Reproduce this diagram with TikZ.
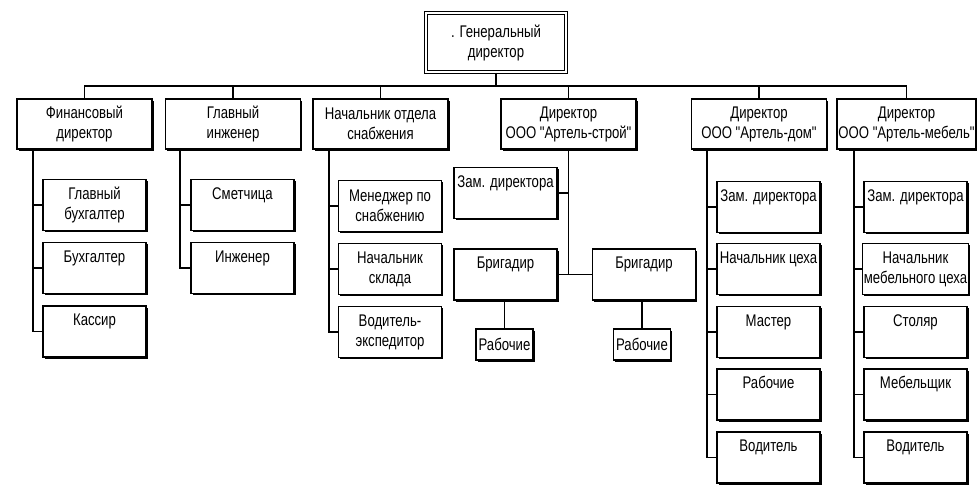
\documentclass[tikz,border=0pt]{standalone}
\usepackage{fontspec}
\setmainfont{Liberation Sans}[FakeStretch=0.78, Ligatures=TeXOff]
\usepackage{tikz}
\usetikzlibrary{shadows}

\begin{document}
\begin{tikzpicture}[x=0.025cm, y=-0.025cm,
    font=\fontsize{12}{14.2}\selectfont,
    box/.style={draw, fill=white, line width=0.9pt, align=center, inner sep=1pt,
      drop shadow={shadow xshift=1.3pt, shadow yshift=-1.3pt, fill=black, opacity=1}},
    head/.style={box, line width=1.3pt, double, double distance=0.9pt, minimum width=3.5cm, minimum height=1.475cm},
    dept/.style={box, minimum width=3.375cm, minimum height=1.25cm},
    cell/.style={box, minimum width=2.58cm, minimum height=1.275cm},
    topcell/.style={cell, text height=8.6pt, text depth=16.5pt},
    small/.style={box, minimum width=1.42cm, minimum height=0.78cm},
    wire/.style={line width=0.9pt}]
  \useasboundingbox (0,0) rectangle (977,496);
  % top
  \node[head] (gen) at (496,42.5) {. Генеральный\\ директор};
  \coordinate (bus) at (0,86);
  % second row
  \node[dept] (fin) at (84.5,124) {Финансовый\\ директор};
  \node[dept] (inzh) at (233,124) {Главный\\ инженер};
  \node[dept] (snab) at (380.5,124) {Начальник отдела\\ снабжения};
  \node[dept] (stroy) at (568.5,124) {Директор\\ ООО "Артель-строй"};
  \node[dept] (dom) at (759,124) {Директор\\ ООО "Артель-дом"};
  \node[dept] (mebel) at (906.5,124) {Директор\\ ООО "Артель-мебель"};
  \draw[wire] (gen.south) -- (gen.south |- bus);
  \draw[wire] (fin.north) -- (fin.north |- bus) -- (mebel.north |- bus) -- (mebel.north);
  \foreach \n in {inzh, snab, stroy, dom}
    \draw[wire] (\n.north) -- (\n.north |- bus);
  % finance
  \coordinate (finL) at (33,0);
  \node[cell] (glbuh) at (94.5,205) {Главный\\ бухгалтер};
  \node[topcell] (buh) at (94.5,268) {Бухгалтер};
  \node[topcell] (kas) at (94.5,331.5) {Кассир};
  \draw[wire] (fin.south -| finL) |- (kas.west);
  \foreach \n in {glbuh, buh}
    \draw[wire] (\n.west -| finL) -- (\n.west);
  % engineer
  \coordinate (inzhL) at (180,0);
  \node[topcell] (smet) at (242.5,205) {Сметчица};
  \node[topcell] (ing) at (242.5,268) {Инженер};
  \draw[wire] (inzh.south -| inzhL) |- (ing.west);
  \draw[wire] (smet.west -| inzhL) -- (smet.west);
  % supply
  \coordinate (snabL) at (329,0);
  \node[cell] (meng) at (390,206) {Менеджер по\\ снабжению};
  \node[cell] (sklad) at (390,269) {Начальник\\ склада};
  \node[cell] (vodex) at (390,332) {Водитель-\\ экспедитор};
  \draw[wire] (snab.south -| snabL) |- (vodex.west);
  \foreach \n in {meng, sklad}
    \draw[wire] (\n.west -| snabL) -- (\n.west);
  % Artel-stroy
  \node[topcell] (szam) at (505.5,193) {Зам. директора};
  \node[topcell] (brig1) at (505.5,274.5) {Бригадир};
  \node[topcell] (brig2) at (644,274.5) {Бригадир};
  \node[small] (rab1) at (504.5,344.5) {Рабочие};
  \node[small] (rab2) at (642,344.5) {Рабочие};
  \draw[wire] (stroy.south) -- (stroy.south |- brig1.east);
  \draw[wire] (szam.east) -- (szam.east -| stroy.south);
  \draw[wire] (brig1.east) -- (brig2.west);
  \draw[wire] (rab1.north) -- (rab1.north |- brig1.south);
  \draw[wire] (rab2.north) -- (rab2.north |- brig2.south);
  % Artel-dom
  \coordinate (domL) at (707,0);
  \node[topcell] (dzam) at (768.5,207) {Зам. директора};
  \node[topcell] (dceh) at (768.5,269) {Начальник цеха};
  \node[topcell] (dmas) at (768.5,332) {Мастер};
  \node[topcell] (drab) at (768.5,394.5) {Рабочие};
  \node[topcell] (dvod) at (768.5,457.5) {Водитель};
  \draw[wire] (dom.south -| domL) |- (dvod.west);
  \foreach \n in {dzam, dceh, dmas, drab}
    \draw[wire] (\n.west -| domL) -- (\n.west);
  % Artel-mebel
  \coordinate (mebL) at (854,0);
  \node[topcell] (mzam) at (915.5,207) {Зам. директора};
  \node[cell] (mceh) at (915.5,269) {Начальник\\ мебельного цеха};
  \node[topcell] (mstol) at (915.5,332) {Столяр};
  \node[topcell] (mmeb) at (915.5,394.5) {Мебельщик};
  \node[topcell] (mvod) at (915.5,457.5) {Водитель};
  \draw[wire] (mebel.south -| mebL) |- (mvod.west);
  \foreach \n in {mzam, mceh, mstol, mmeb}
    \draw[wire] (\n.west -| mebL) -- (\n.west);
\end{tikzpicture}
\end{document}
